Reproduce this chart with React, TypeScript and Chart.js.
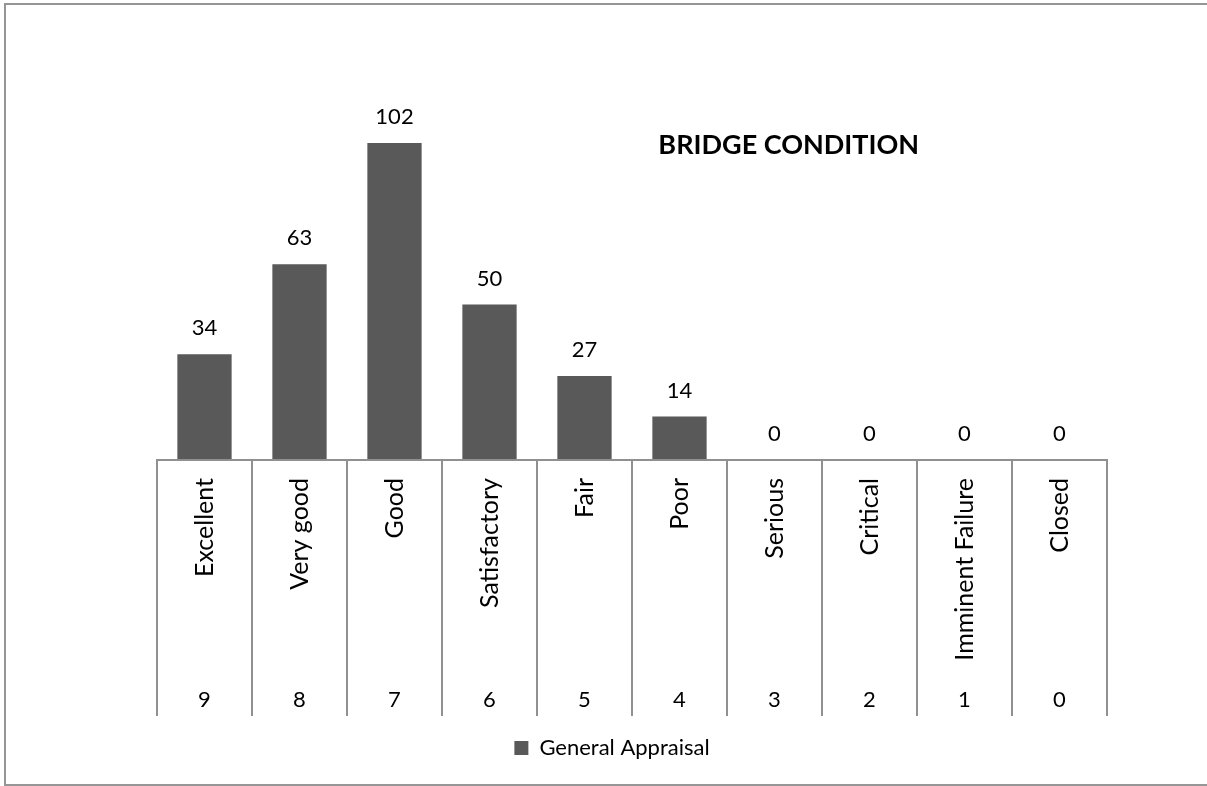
import React, { useEffect, useRef } from 'react';
import { Chart, registerables } from 'chart.js';

Chart.register(...registerables);

const categories = ['Excellent', 'Very good', 'Good', 'Satisfactory', 'Fair', 'Poor', 'Serious', 'Critical', 'Imminent Failure', 'Closed'];
const ratingCodes = ['9', '8', '7', '6', '5', '4', '3', '2', '1', '0'];
const generalAppraisal = [34, 63, 102, 50, 27, 14, 0, 0, 0, 0];
const seriesName = 'General Appraisal';
const chartTitle = 'BRIDGE CONDITION';
const yMax = 120;

const FONT = 'Lato, "Open Sans", sans-serif';
const LINE = '#909090';

const gridPlugin = {
  id: 'catGrid',
  afterDraw(chart: any) {
    const xs = chart.scales.x;
    const x2 = chart.scales.x2;
    const ctx = chart.ctx;
    ctx.save();
    ctx.strokeStyle = LINE;
    ctx.lineWidth = 2;
    for (let i = 0; i <= categories.length; i++) {
      const px = Math.round(xs.getPixelForValue(i - 0.5));
      ctx.beginPath();
      ctx.moveTo(px, xs.top);
      ctx.lineTo(px, x2.bottom);
      ctx.stroke();
    }
    ctx.beginPath();
    ctx.moveTo(xs.left - 1, xs.top);
    ctx.lineTo(xs.right + 1, xs.top);
    ctx.stroke();
    ctx.restore();
  },
};

const valueLabelPlugin = {
  id: 'valueLabels',
  afterDatasetsDraw(chart: any) {
    const ctx = chart.ctx;
    const meta = chart.getDatasetMeta(0);
    ctx.save();
    ctx.font = `22px ${FONT}`;
    ctx.fillStyle = '#000';
    ctx.textAlign = 'center';
    ctx.textBaseline = 'middle';
    meta.data.forEach((bar: any, i: number) => {
      ctx.fillText(String(generalAppraisal[i]), bar.x, bar.y - 26);
    });
    ctx.restore();
  },
};

const titlePlugin = {
  id: 'innerTitle',
  afterDraw(chart: any) {
    const ctx = chart.ctx;
    const xs = chart.scales.x;
    const ys = chart.scales.y;
    ctx.save();
    ctx.font = `bold 27px ${FONT}`;
    ctx.fillStyle = '#000';
    ctx.textAlign = 'center';
    ctx.textBaseline = 'middle';
    const cx = xs.getPixelForValue(6.15);
    const cy = ys.getPixelForValue(101.2);
    ctx.fillText(chartTitle, cx, cy);
    ctx.restore();
  },
};

const legendShiftPlugin = {
  id: 'legendShift',
  afterLayout(chart: any) {
    const lg = chart.legend;
    if (lg) {
      lg.left -= 20;
      lg.right -= 20;
    }
  },
};

export default function App() {
  const ref = useRef<HTMLCanvasElement>(null);
  useEffect(() => {
    const canvas = ref.current!;
    const chart = new Chart(canvas, {
      type: 'bar',
      data: {
        labels: categories,
        datasets: [
          {
            label: seriesName,
            data: generalAppraisal,
            backgroundColor: '#595959',
            borderWidth: 0,
            categoryPercentage: 1,
            barPercentage: 1 / 1.75,
          },
        ],
      },
      options: {
        responsive: false,
        animation: false,
        devicePixelRatio: 1,
        layout: { padding: { left: 157, right: 100, top: 87, bottom: 17 } },
        plugins: {
          legend: {
            position: 'bottom',
            labels: {
              boxWidth: 14,
              boxHeight: 14,
              padding: 21,
              color: '#000',
              font: { family: FONT, size: 22 },
            },
          },
          tooltip: { enabled: false },
          title: { display: false },
        },
        scales: {
          y: { display: false, min: 0, max: yMax },
          x: {
            type: 'category',
            position: 'bottom',
            weight: 0,
            grid: { display: false },
            border: { display: false },
            ticks: {
              autoSkip: false,
              minRotation: 90,
              maxRotation: 90,
              padding: 10,
              color: '#000',
              font: { family: FONT, size: 25 },
            },
            afterFit: (scale: any) => {
              scale.height = 206;
            },
          },
          x2: {
            type: 'category',
            position: 'bottom',
            weight: 1,
            labels: ratingCodes,
            grid: { display: false },
            border: { display: false },
            ticks: {
              autoSkip: false,
              maxRotation: 0,
              minRotation: 0,
              padding: 13,
              color: '#000',
              font: { family: FONT, size: 22 },
            },
            afterFit: (scale: any) => {
              scale.height = 50;
            },
          },
        },
      },
      plugins: [gridPlugin, valueLabelPlugin, titlePlugin, legendShiftPlugin],
    } as any);
    return () => chart.destroy();
  }, []);
  return (
    <div style={{ position: 'fixed', left: 0, top: 0, width: 1207, height: 786, background: '#fff', overflow: 'hidden' }}>
      <canvas ref={ref} width={1207} height={786} style={{ position: 'absolute', left: 0, top: 0, width: 1207, height: 786 }} />
      <div
        style={{
          position: 'absolute',
          left: 4,
          top: 3,
          width: 1220,
          height: 783,
          border: '2px solid #969696',
          boxSizing: 'border-box',
          pointerEvents: 'none',
        }}
      />
    </div>
  );
}
